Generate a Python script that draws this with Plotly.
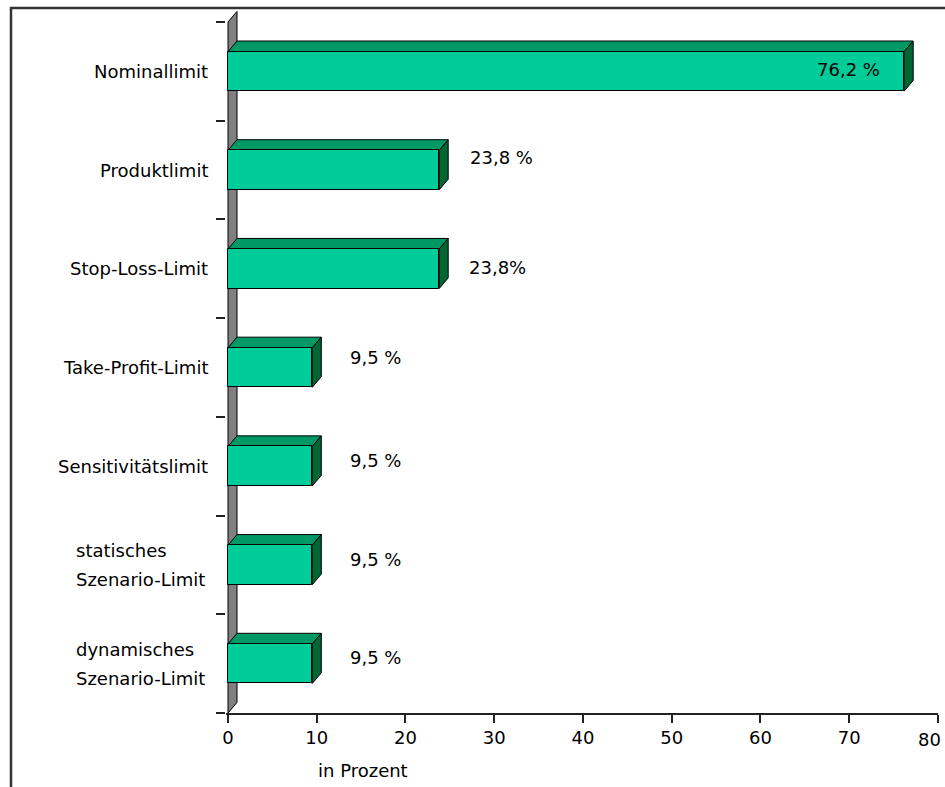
import plotly.graph_objects as go

# --- data -------------------------------------------------------------
categories = [
    "Nominallimit",
    "Produktlimit",
    "Stop-Loss-Limit",
    "Take-Profit-Limit",
    "Sensitivitätslimit",
    "statisches\nSzenario-Limit",
    "dynamisches\nSzenario-Limit",
]
values = [76.2, 23.8, 23.8, 9.5, 9.5, 9.5, 9.5]
value_labels = ["76,2 %", "23,8 %", "23,8%", "9,5 %", "9,5 %", "9,5 %", "9,5 %"]
x_ticks = [0, 10, 20, 30, 40, 50, 60, 70, 80]
x_title = "in Prozent"

# --- label placement (pixel offsets from the bar end) -----------------
label_anchor = ["right", "left", "left", "left", "left", "left", "left"]
label_xshift = [-22, 29, 28, 36, 36, 36, 36]
label_yshift = [2, 13, 1, 10, 6, 5, 6]

# --- styling ----------------------------------------------------------
FONT = "DejaVu Sans"
FSIZE = 18
FRONT = "#00CC99"
TOP = "#009966"
SIDE = "#006633"
WALL = "#808080"
EDGE = "#000000"

W, H = 945, 787
PLOT_L, PLOT_R, PLOT_T, PLOT_B = 226, 938, 8, 713
X0_PX = 228          # pixel of x = 0
ROW_TOP_PX = 22      # pixel of the upper edge of the first category row
TICKLABEL_PX = 739   # vertical centre of the x tick labels

n = len(categories)
x_scale = (PLOT_R - X0_PX) / x_ticks[-1]
row_px = (PLOT_B - ROW_TOP_PX) / n
x_range = [-(X0_PX - PLOT_L) / x_scale, x_ticks[-1] + 0.01]
y_range = [-0.5, n - 0.5 + (ROW_TOP_PX - PLOT_T) / row_px]

# depth of the 3-D effect in data units
DX = 9.0 / x_scale
DY = 10.6 / row_px
HALF = 0.2           # half thickness of a bar

ypos = [n - 1 - i for i in range(n)]


def paper_x(px):
    return (px - PLOT_L) / (PLOT_R - PLOT_L)


def paper_y(py):
    return (PLOT_B - py) / (PLOT_B - PLOT_T)


fig = go.Figure()

# front faces of the bars
fig.add_trace(go.Bar(
    x=values, y=ypos, orientation="h", width=2 * HALF, base=0,
    marker=dict(color=FRONT, line=dict(color=EDGE, width=1)),
    hoverinfo="skip",
))

shapes = []
# back wall
shapes.append(dict(
    type="path", xref="x", yref="y", layer="below",
    path=(f"M 0,{-0.5} L 0,{n - 0.5} L {DX},{n - 0.5 + DY} "
          f"L {DX},{-0.5 + DY} Z"),
    fillcolor=WALL, line=dict(color=EDGE, width=1),
))
# top and side faces
for v, y in zip(values, ypos):
    top = y + HALF
    bot = y - HALF
    shapes.append(dict(
        type="path", xref="x", yref="y", layer="below",
        path=(f"M 0,{top} L {v},{top} L {v + DX},{top + DY} "
              f"L {DX},{top + DY} Z"),
        fillcolor=TOP, line=dict(color=EDGE, width=1),
    ))
    shapes.append(dict(
        type="path", xref="x", yref="y", layer="below",
        path=(f"M {v},{bot} L {v},{top} L {v + DX},{top + DY} "
              f"L {v + DX},{bot + DY} Z"),
        fillcolor=SIDE, line=dict(color=EDGE, width=1),
    ))
# frame around the chart
shapes.append(dict(
    type="path", xref="paper", yref="paper", layer="above",
    path=(f"M {paper_x(11)},{paper_y(H + 5)} L {paper_x(11)},{paper_y(8)} "
          f"L {paper_x(W + 5)},{paper_y(8)}"),
    line=dict(color="#333333", width=2.5),
))

annotations = []
# category labels
for cat, y in zip(categories, ypos):
    lines = cat.split("\n")
    if len(lines) == 1:
        annotations.append(dict(
            x=paper_x(210), xref="paper", y=y, yref="y",
            text=cat, showarrow=False, xanchor="right", yanchor="middle",
            font=dict(family=FONT, size=FSIZE, color="#000"),
        ))
    else:
        for j, line in enumerate(lines):
            annotations.append(dict(
                x=paper_x(74), xref="paper", y=y, yref="y",
                text=line, showarrow=False, xanchor="left", yanchor="middle",
                yshift=14.5 - 29 * j,
                font=dict(family=FONT, size=FSIZE, color="#000"),
            ))
# value labels
for v, y, txt, anc, dx, dy in zip(values, ypos, value_labels,
                                   label_anchor, label_xshift, label_yshift):
    annotations.append(dict(
        x=v, xref="x", y=y, yref="y", text=txt, showarrow=False,
        xanchor=anc, yanchor="middle", xshift=dx, yshift=dy,
        font=dict(family=FONT, size=FSIZE, color="#000"),
    ))
# last tick label, pulled inward so it stays inside the figure
annotations.append(dict(
    x=x_ticks[-1], xref="x", y=paper_y(TICKLABEL_PX), yref="paper",
    text=str(x_ticks[-1]), showarrow=False, xanchor="right",
    yanchor="middle", xshift=5,
    font=dict(family=FONT, size=FSIZE, color="#000"),
))
# axis title
annotations.append(dict(
    x=paper_x(363), xref="paper", y=paper_y(771), yref="paper",
    text=x_title, showarrow=False, xanchor="center", yanchor="middle",
    font=dict(family=FONT, size=FSIZE, color="#000"),
))

tick_text = [str(t) for t in x_ticks[:-1]] + [""]

fig.update_layout(
    width=W, height=H, autosize=False,
    margin=dict(l=PLOT_L, r=W - PLOT_R, t=PLOT_T, b=H - PLOT_B, pad=0,
                autoexpand=False),
    paper_bgcolor="white", plot_bgcolor="white",
    showlegend=False, bargap=0,
    shapes=shapes, annotations=annotations,
    xaxis=dict(
        range=x_range, tickvals=x_ticks, ticktext=tick_text,
        ticks="outside", ticklen=8, tickwidth=1.5, tickcolor="#222",
        automargin=False,
        showline=True, linecolor="#222", linewidth=1.5,
        showgrid=False, zeroline=False,
        tickfont=dict(family=FONT, size=FSIZE, color="#000"),
        fixedrange=True,
    ),
    yaxis=dict(
        range=y_range, tickvals=[k - 0.5 for k in range(n + 1)],
        ticks="outside", ticklen=9, tickwidth=1.5, tickcolor="#222",
        showticklabels=False, showline=False, showgrid=False, zeroline=False,
        automargin=False, fixedrange=True,
    ),
)

fig.write_html("out.html")
